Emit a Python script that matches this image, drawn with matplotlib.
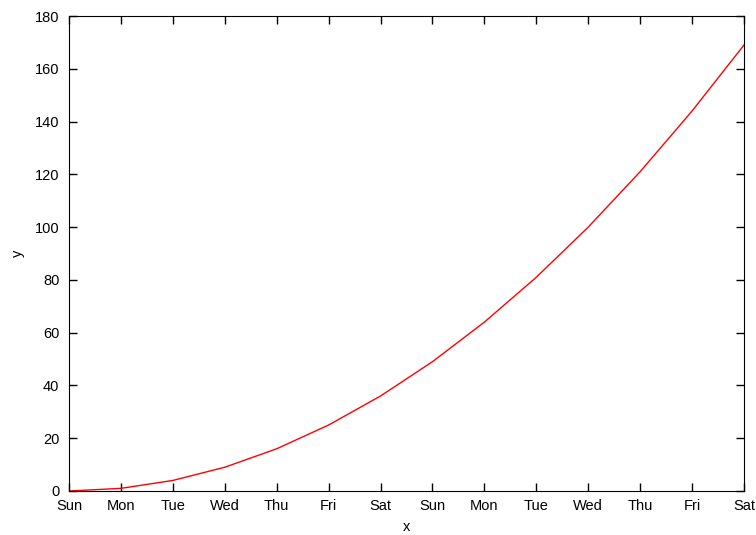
import matplotlib
matplotlib.use("Agg")
import matplotlib.pyplot as plt

# Dados
x = list(range(14))
y = [0, 1, 4, 9, 16, 25, 36, 49, 64, 81, 100, 121, 144, 169]
dias = ["Sun", "Mon", "Tue", "Wed", "Thu", "Fri", "Sat",
        "Sun", "Mon", "Tue", "Wed", "Thu", "Fri", "Sat"]
yticks = [0, 20, 40, 60, 80, 100, 120, 140, 160, 180]

plt.rcParams["font.family"] = ["Liberation Sans", "DejaVu Sans"]
plt.rcParams["font.size"] = 10.5

fig = plt.figure(figsize=(7.56, 5.35), dpi=100)
ax = fig.add_axes([69 / 756, 1 - 491 / 535, 675 / 756, 475 / 535])

ax.plot(x, y, color="red", lw=1)
ax.set_xlim(0, 13)
ax.set_ylim(0, 180)
ax.set_xticks(x)
ax.set_xticklabels(dias)
ax.set_yticks(yticks)
ax.tick_params(direction="in", top=True, right=True, length=6, width=1)
ax.tick_params(axis="x", pad=6)
ax.tick_params(axis="y", pad=7)
ax.set_xlabel("x", labelpad=5)
ax.set_ylabel("y", labelpad=7)

fig.savefig("out.png", dpi=100)
